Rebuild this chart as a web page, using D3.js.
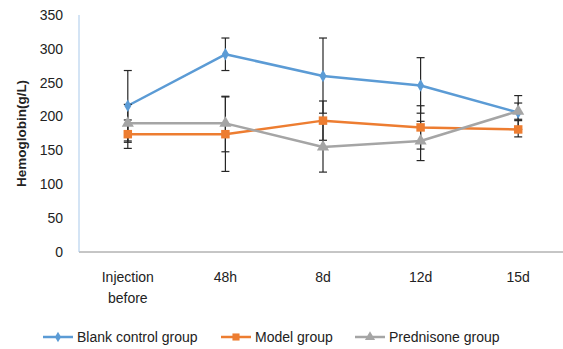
<!DOCTYPE html>
<html>
<head>
<meta charset="utf-8">
<script src="https://cdn.jsdelivr.net/npm/d3@7"></script>
<style>
  body { margin: 0; background: #fff; }
  svg text { font-family: "Liberation Sans", Arial, sans-serif; fill: #222; }
</style>
</head>
<body>
<svg id="chart" width="563" height="349"></svg>
<script>
// categories and values
var categories = ["Injection before", "48h", "8d", "12d", "15d"];
var yTicks = [0, 50, 100, 150, 200, 250, 300, 350];

var blankValues = [216, 292, 260, 246, 206];
var blankUpper  = [268, 316, 316, 287, 231];
var blankLower  = [164, 268, 205, 205, 181];

var modelValues = [174, 174, 194, 184, 181];
var modelUpper  = [195, 229, 223, 216, 194];
var modelLower  = [153, 119, 165, 152, 170];

var predValues  = [190, 190, 155, 164, 208];
var predUpper   = [218, 230, 192, 193, 220];
var predLower   = [162, 148, 118, 135, 196];

var series = [
  { name: "Blank control group", values: blankValues, upper: blankUpper, lower: blankLower, color: "#5b9bd5", symbol: d3.symbolDiamond, size: 45 },
  { name: "Model group", values: modelValues, upper: modelUpper, lower: modelLower, color: "#ed7d31", symbol: d3.symbolSquare, size: 72 },
  { name: "Prednisone group", values: predValues, upper: predUpper, lower: predLower, color: "#a5a5a5", symbol: d3.symbolTriangle, size: 64 }
];

var margin = { top: 15, left: 79, bottom: 97 };
var plotW = 488;
var svg = d3.select("#chart");

var x = d3.scaleBand()
  .domain(categories)
  .range([margin.left, margin.left + plotW]);
var y = d3.scaleLinear()
  .domain([0, 350])
  .range([252, margin.top]);

// y tick labels (no tick marks)
svg.append("g").selectAll("text")
  .data(yTicks)
  .enter().append("text")
  .attr("x", 63)
  .attr("y", function(d) { return y(d); })
  .attr("dy", "0.35em")
  .attr("text-anchor", "end")
  .style("font-size", "14px")
  .text(function(d) { return d; });

// axis lines
svg.append("line")
  .attr("x1", margin.left).attr("x2", margin.left + plotW)
  .attr("y1", y(0)).attr("y2", y(0))
  .attr("stroke", "#8c8c8c").attr("stroke-width", 1);
svg.append("line")
  .attr("x1", margin.left).attr("x2", margin.left)
  .attr("y1", y(0)).attr("y2", y(350))
  .attr("stroke", "#a9c9ea").attr("stroke-width", 1);

// x labels
var xl = svg.append("g").selectAll("text")
  .data(categories)
  .enter().append("text")
  .attr("x", function(d) { return x(d) + x.bandwidth() / 2; })
  .attr("y", 282)
  .attr("text-anchor", "middle")
  .style("font-size", "14px");
xl.each(function(d) {
  var words = d.split(" ");
  var t = d3.select(this);
  words.forEach(function(w, i) {
    t.append("tspan")
      .attr("x", x(d) + x.bandwidth() / 2)
      .attr("dy", i === 0 ? 0 : 21)
      .text(w);
  });
});

// axis title
svg.append("text")
  .attr("transform", "translate(21," + (margin.top + 252) / 2 + ") rotate(-90)")
  .attr("text-anchor", "middle")
  .style("font-size", "13.5px")
  .style("font-weight", "bold")
  .attr("dy", "0.35em")
  .text("Hemoglobin(g/L)");

var cx = function(d, i) { return x(categories[i]) + x.bandwidth() / 2; };
var line = d3.line()
  .x(function(d, i) { return cx(d, i); })
  .y(function(d) { return y(d); });

// lines
series.forEach(function(s) {
  svg.append("path")
    .datum(s.values)
    .attr("fill", "none")
    .attr("stroke", s.color)
    .attr("stroke-width", 2.5)
    .attr("stroke-linejoin", "round")
    .attr("d", line);
});

// error bars
series.forEach(function(s) {
  var g = svg.append("g").attr("stroke", "#262626").attr("stroke-width", 1.2);
  s.values.forEach(function(v, i) {
    var px = cx(v, i);
    g.append("line").attr("x1", px).attr("x2", px)
      .attr("y1", y(s.upper[i])).attr("y2", y(s.lower[i]));
    [s.upper[i], s.lower[i]].forEach(function(e) {
      g.append("line").attr("x1", px - 4).attr("x2", px + 4)
        .attr("y1", y(e)).attr("y2", y(e));
    });
  });
});

// markers on top
series.forEach(function(s) {
  svg.append("g").selectAll("path")
    .data(s.values)
    .enter().append("path")
    .attr("transform", function(d, i) { return "translate(" + cx(d, i) + "," + y(d) + ")"; })
    .attr("d", d3.symbol().type(s.symbol).size(s.size))
    .attr("fill", s.color);
});

// legend
var legendX = [43, 221, 355];
var leg = svg.append("g").selectAll("g")
  .data(series)
  .enter().append("g")
  .attr("transform", function(d, i) { return "translate(" + legendX[i] + ",337)"; });
leg.append("line")
  .attr("x1", 0).attr("x2", 30)
  .attr("stroke", function(d) { return d.color; })
  .attr("stroke-width", 2.5);
leg.append("path")
  .attr("transform", "translate(15,0)")
  .attr("d", function(d) { return d3.symbol().type(d.symbol).size(d.size * 0.7)(); })
  .attr("fill", function(d) { return d.color; });
leg.append("text")
  .attr("x", 34)
  .attr("dy", "0.35em")
  .style("font-size", "14px")
  .text(function(d) { return d.name; });
</script>
</body>
</html>
